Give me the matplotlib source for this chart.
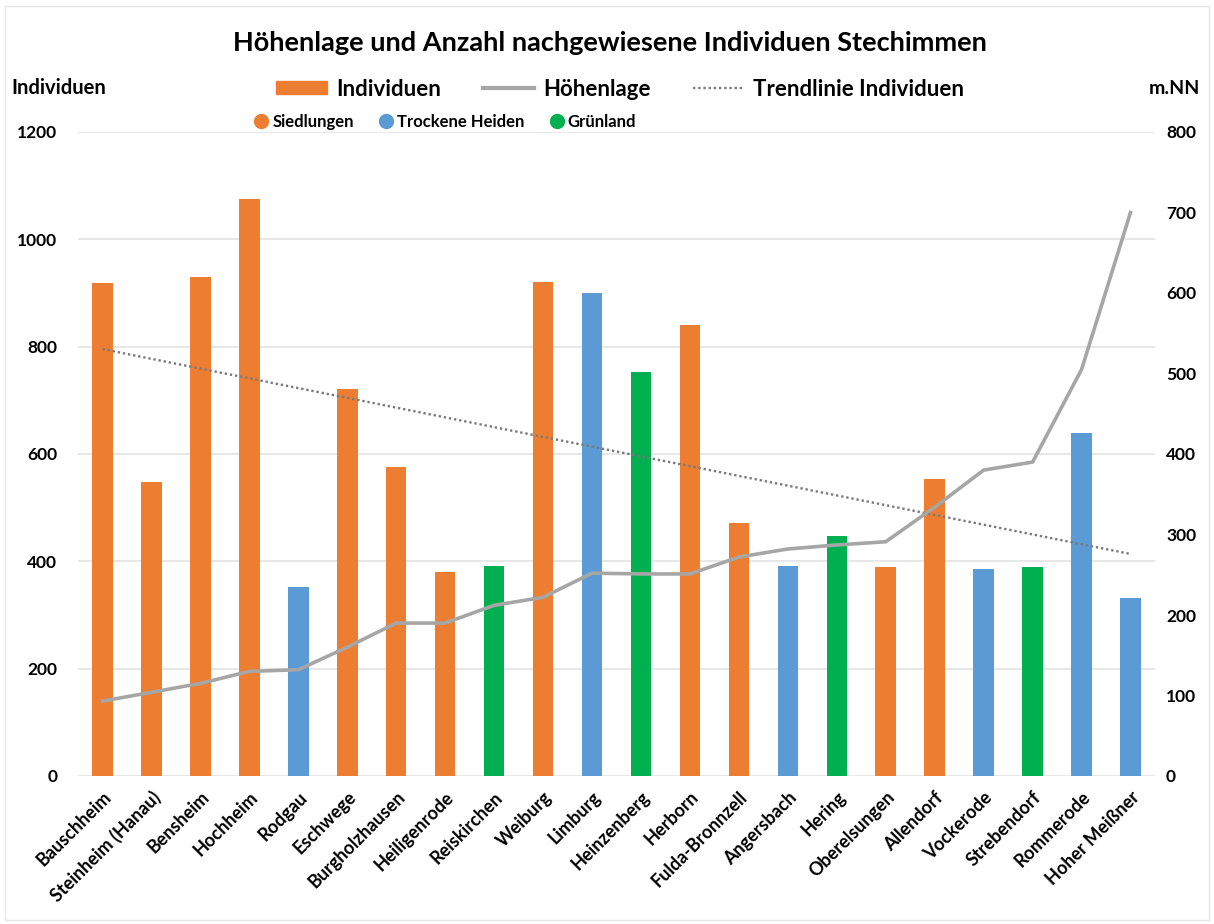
import numpy as np
import matplotlib
matplotlib.use('Agg')
import matplotlib.pyplot as plt
from matplotlib.patches import Patch, Rectangle
from matplotlib.lines import Line2D

plt.rcParams['font.family'] = ['Lato', 'DejaVu Sans']

# data
orte = ['Bauschheim', 'Steinheim (Hanau)', 'Bensheim', 'Hochheim', 'Rodgau', 'Eschwege',
        'Burgholzhausen', 'Heiligenrode', 'Reiskirchen', 'Weiburg', 'Limburg', 'Heinzenberg',
        'Herborn', 'Fulda-Bronnzell', 'Angersbach', 'Hering', 'Oberelsungen', 'Allendorf',
        'Vockerode', 'Strebendorf', 'Rommerode', 'Hoher Meißner']
individuen = [918, 547, 929, 1075, 352, 722, 575, 381, 391, 921, 900, 753,
              841, 471, 391, 447, 389, 554, 385, 389, 640, 331]
hoehe = [93, 104, 115, 130, 132, 160, 190, 190, 212, 222, 252, 251,
         251, 272, 282, 287, 291, 334, 380, 390, 505, 700]
lebensraum = ['S', 'S', 'S', 'S', 'T', 'S', 'S', 'S', 'G', 'S', 'T', 'G',
              'S', 'S', 'T', 'G', 'S', 'S', 'T', 'G', 'T', 'T']

farben = {'S': '#ED7D31', 'T': '#5B9BD5', 'G': '#00B050'}
namen = {'S': 'Siedlungen', 'T': 'Trockene Heiden', 'G': 'Grünland'}

fig = plt.figure(figsize=(12.14, 9.24), dpi=100)
ax = fig.add_axes([78 / 1214, 1 - 776 / 924, (1155 - 78) / 1214, (776 - 132) / 924])
ax2 = ax.twinx()

x = np.arange(len(orte))
ax.bar(x, individuen, width=0.42, color=[farben[l] for l in lebensraum], zorder=2)

# linear trend of the counts
k, d = np.polyfit(x, individuen, 1)
ax.plot(x, k * x + d, color='#7A7A7A', linestyle=(0, (1, 1.2)), lw=1.7, zorder=3)

ax2.plot(x, hoehe, color='#A6A6A6', lw=2.6, zorder=4)

ax.set_xlim(-0.5, len(orte) - 0.5)
ax.set_ylim(0, 1200)
ax2.set_ylim(0, 800)
ax.set_yticks(range(0, 1201, 200))
ax2.set_yticks(range(0, 801, 100))
ax.grid(axis='y', color='#E3E3E3', lw=1.2, zorder=0)
ax.set_axisbelow(True)

for a in (ax, ax2):
    for s in a.spines.values():
        s.set_visible(False)
    a.tick_params(length=0, labelsize=12.5)
    for t in a.get_yticklabels():
        t.set_fontweight('bold')
ax.tick_params(axis='y', pad=15)
ax2.tick_params(axis='y', pad=8)

ax.set_xticks(x)
ax.set_xticklabels(orte, rotation=45, ha='right', rotation_mode='anchor',
                   fontsize=13, fontweight='bold')
ax.tick_params(axis='x', pad=9)

fig.text(610 / 1214, 1 - 43 / 924, 'Höhenlage und Anzahl nachgewiesene Individuen Stechimmen',
         ha='center', va='center', fontsize=19.5, fontweight='bold')
fig.text(11 / 1214, 1 - 88 / 924, 'Individuen', ha='left', va='center',
         fontsize=14.5, fontweight='bold')
fig.text(1200 / 1214, 1 - 88 / 924, 'm.NN', ha='right', va='center',
         fontsize=14, fontweight='bold')

h1 = [Patch(color='#ED7D31'),
      Line2D([], [], color='#A6A6A6', lw=3),
      Line2D([], [], color='#7A7A7A', lw=1.7, linestyle=(0, (1, 1.2)))]
leg1 = fig.legend(h1, ['Individuen', 'Höhenlage', 'Trendlinie Individuen'],
                  loc='center', bbox_to_anchor=(620 / 1214, 1 - 89 / 924), ncol=3,
                  frameon=False, prop={'size': 16, 'weight': 'bold'},
                  handlelength=2.3, handleheight=0.55, columnspacing=1.9, handletextpad=0.4)

h2 = [Line2D([], [], marker='o', ls='', ms=10, color=farben[c]) for c in ['S', 'T', 'G']]
leg2 = fig.legend(h2, [namen[c] for c in ['S', 'T', 'G']],
                  loc='center', bbox_to_anchor=(446 / 1214, 1 - 122 / 924), ncol=3,
                  frameon=False, prop={'size': 12, 'weight': 'bold'},
                  handlelength=0.7, columnspacing=1.6, handletextpad=0.3)

fig.patches.append(Rectangle((0.004, 0.004), 0.992, 0.99, transform=fig.transFigure,
                             fill=False, edgecolor='#E6E6E6', lw=1))

fig.savefig('out.png', dpi=100)
